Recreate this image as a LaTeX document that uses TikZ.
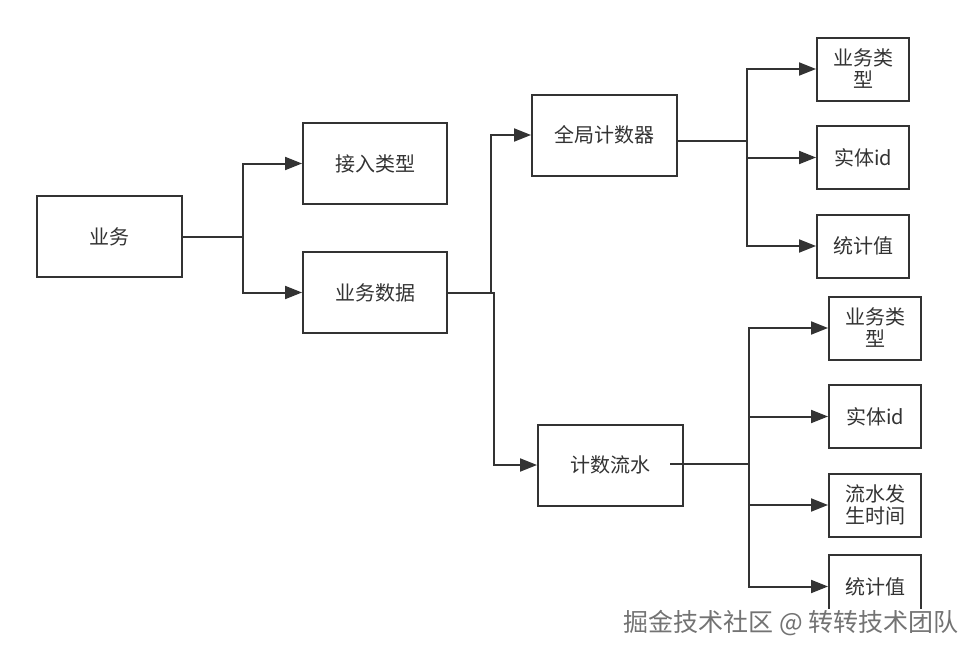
\documentclass[tikz,border=0pt]{standalone}
\usepackage{fontspec}
\setmainfont{Noto Sans CJK SC}
\usepackage{tikz}
\usetikzlibrary{arrows.meta}
\definecolor{line}{HTML}{333333}

\begin{document}
\begin{tikzpicture}[x=1pt,y=-1pt,
  box/.style={draw=line,line width=2pt,minimum width=145pt,minimum height=81pt,inner sep=0pt,
    text=line,font=\fontsize{20}{22}\selectfont},
  leaf/.style={box,minimum width=92pt,minimum height=63pt,align=center},
  link/.style={draw=line,line width=2pt,-{Triangle[length=17pt,width=13pt]}}]
  \useasboundingbox[fill=white] (0,0) rectangle (979,656);
  \node[box] (yw) at (109.5,236.5) {业务};
  \node[box,minimum width=144pt] (jrlx) at (375,163.5) {接入类型};
  \node[box,minimum width=144pt] (ywsj) at (375,292.5) {业务数据};
  \node[box] (qjjsq) at (604.5,135) {全局计数器};
  \node[box] (jsls) at (610.5,465) {计数流水};
  \node[leaf] (qa) at (863,69) {业务类\\型};
  \node[leaf] (qb) at (863,157.5) {实体id};
  \node[leaf] (qc) at (863,246) {统计值};
  \node[leaf] (la) at (875,328) {业务类\\型};
  \node[leaf] (lb) at (875,416.5) {实体id};
  \node[leaf] (lc) at (875,505) {流水发\\生时间};
  \node[leaf] (ld) at (875,586.5) {统计值};
  \draw[link] (yw.east) -- ++(60,0) |- (jrlx.west);
  \draw[link] (yw.east) -- ++(60,0) |- (ywsj.west);
  \draw[link] (ywsj.east) -- ++(43,0) |- (qjjsq.west);
  \draw[link] (ywsj.east) -- ++(46,0) |- (jsls.west);
  \coordinate (qjfork) at (747,141);
  \draw[draw=line,line width=2pt] ([yshift=-6pt]qjjsq.east) -- (qjfork);
  \foreach \n in {qa,qb,qc}
    \draw[link] (qjfork) |- (\n.west);
  \coordinate (jsfork) at (749,464);
  \draw[draw=line,line width=2.6pt] ([xshift=-14pt,yshift=1pt]jsls.east) -- (jsfork);
  \foreach \n in {la,lb,lc,ld}
    \draw[link] (jsfork) |- (\n.west);
  \node[fill=white,inner sep=1pt,text=black!55,font=\fontsize{25}{26}\selectfont] (wm) at (791,623)
    {掘金技术社区 @ 转转技术团队};
\end{tikzpicture}
\end{document}
